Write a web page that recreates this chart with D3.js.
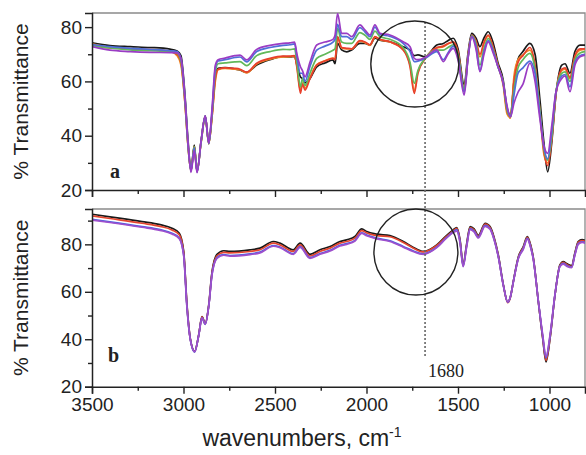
<!DOCTYPE html>
<html><head><meta charset="utf-8">
<script src="https://cdn.jsdelivr.net/npm/d3@7"></script>
<style>html,body{margin:0;padding:0;background:#fff;}svg{display:block;}</style>
</head><body>
<script>
// ---------- DATA ----------
const wnTop = [3500,3402,3292,3183,3074,3035,3014,2992,2975,2959,2941,2926,2904,2881,2862,2844,2826,2811,2773,2719,2691,2655,2600,2527,2456,2418,2393,2380,2361,2350,2336,2309,2272,2227,2183,2172,2158,2136,2108,2081,2036,2008,1981,1954,1926,1872,1800,1762,1739,1719,1680,1616,1580,1555,1526,1500,1466,1446,1425,1402,1380,1358,1335,1307,1282,1253,1232,1213,1194,1172,1145,1107,1079,1052,1030,1010,987,965,933,915,888,861,833,806];
const topBlack  = [74.2,73.2,72.8,72.5,71.9,71.2,69.5,55,38,27.5,36.5,27,38,47.3,37.5,48,62,64.8,65.1,64.6,64.2,63.3,66,68,69.1,69.0,69.2,66,61.7,61,59.5,61,65.4,66.8,67.9,66.5,74,71.6,70.9,71.6,74.0,74,73.4,75.9,75.2,74.6,72.8,71.5,69.5,69.8,69,73.4,74.0,75,75.9,72,58.7,70,77.7,76,72.8,76,78.3,74,67,60.5,50,47.5,60,68.2,71,74.0,70,53,37,26.7,38,55,66.0,66.5,63,71,73.4,73.4];
const topOrange = [73.8,72.5,72.1,71.8,71.2,69.5,66,52,36,27.2,36,27,37.5,47,37.2,47,60,64.3,64.8,64.5,64.3,63.1,66.4,68.2,69.0,69.1,69.3,65.5,56.5,59.5,57.5,61.5,66.2,67.6,68.6,68.2,76,72.3,72.0,72.0,74.8,74.3,73.3,76.3,75.4,74.5,71.8,66,56.5,63.5,68.4,72.2,72.8,73.8,74.5,70.5,56.5,68.5,76.8,74.5,69,74,76.8,72,66,58.5,48,46.5,62,68,69.8,71.5,65,48,33,30,40,55.5,64,64.5,61,69,71.5,71.8];
const topRed    = [73.5,72.3,72.0,71.7,71.0,70.0,67,52,36,27,36,26.8,37.5,47,37,47,61,64.5,65.0,64.8,64.5,63.4,66.7,68.5,69.3,69.3,69.5,65,55.6,59,56.8,61,66,67.5,68.5,68,76.5,72.5,72.2,72,75,74.5,73.5,76.5,75.5,74.6,71.6,65.4,55.6,63,68.3,72.5,73,74,74.6,71,56.8,69,77,75,70,74.5,77.1,72.5,66,59.5,49,47,60,67,69.5,72.5,66,49,34,29,39,55,64.5,65,61.5,69.5,72,72];
const topGreen  = [73.3,72.3,71.6,71.3,70.9,70.4,67.5,53,36,27,36,26.8,37.5,47,37,48,63.5,66.5,66.8,67.2,67.3,65.8,69.5,71,71.8,71.7,72,67,58,61,58.5,63,68.5,70,71.5,72,79.6,74.5,74,74,78,77,75.5,78.5,76.5,75.5,72.5,67,59.3,64,68.5,71.5,71.5,72.5,73.5,70,57,68.5,76.8,74,66,72,75.8,71.5,65.5,59.5,49.5,47,57,65,68,70.3,64.5,49,35,31,40,56,63,63.5,60,68,70.5,71];
const topBlue   = [73.6,72.8,72.2,71.8,71.3,71,68.5,54,37,27,35.5,26.6,37.8,47.2,37.2,49,65,67.5,68,68.8,69,67.2,71,72.5,73.3,73.5,73.8,69,63,63,60,65.5,71.5,73,74.5,75.5,81,76.5,76.5,75.5,79.8,78.2,76.5,80,77.3,76.6,74,71,67.3,67.5,68.5,71,68,70.5,73,69,56,68,76.6,73,64,71,75,71,65.5,59.5,50.5,47,55,63,65,67.5,63,47.5,35.5,31.5,42,56,62,62.5,58,67,69.5,70];
const topPurple = [72.8,71.5,71.0,70.7,70.6,70.5,68.5,54,37,26.5,34.5,26.4,38,47.3,37.2,50,66,68,68.6,69.5,69.7,67.9,71.8,73.3,74.0,74.2,74.5,70,65.4,64,61.7,67,73.4,74.5,75.5,77,85,77.7,77.7,76.5,80.8,78.9,77.1,80.8,77.7,77.1,74.6,72.8,68.5,68.0,68.8,71.6,67.3,70,72.2,68,55,68,76.5,72,63.6,70,74.6,70.3,65.5,59.3,51,47,52,56,59,66.7,60,46,36,33.5,44,56,61.1,62,56.2,66,69.1,69.7];

const wnBot = [3500,3402,3227,3128,3063,3023,2999,2981,2963,2939,2917,2899,2881,2862,2844,2817,2780,2746,2637,2582,2509,2473,2400,2363,2309,2254,2199,2145,2108,2063,2026,1999,1944,1872,1799,1746,1690,1616,1566,1526,1507,1489,1472,1453,1434,1412,1389,1352,1325,1303,1280,1252,1228,1213,1198,1170,1143,1121,1104,1088,1061,1037,1019,997,970,943,925,904,879,861,843,822,800];
const botBlack  = [92.7,91.6,89.6,88.3,86.8,84.7,77,54.5,40.4,35,41.8,49.5,46.7,54.5,68.5,75.8,77.3,77,77.7,78.4,81.2,80.5,77.7,80.5,75.8,77.7,79.1,81.2,81.9,83.3,86.5,85.4,84.3,83.7,81.2,78.8,77,79.8,83.5,86.1,87.1,82,71.5,80,87.5,86.5,83.8,88.9,87.5,83,75.6,62.9,55.5,58,64.3,74.8,79.1,83.3,80,74.2,55.9,40.4,30.5,40.4,58.7,71.3,72.7,71.8,71,76.5,81.2,82,81.5];
const botRed    = [92.0,90.9,88.9,87.6,86.1,84.0,76.5,54.2,40.2,34.8,41.6,49.4,46.5,54.2,68.1,75.2,76.6,76.4,77.0,77.7,80.5,79.8,77.0,79.8,75.1,77.0,78.4,80.5,81.2,82.6,85.8,84.8,83.7,83.2,80.8,78.5,76.8,79.5,83.1,85.7,86.7,81.6,71.2,79.6,87.1,86.1,83.4,88.5,87.1,82.6,75.3,62.7,55.4,57.9,64.1,74.5,78.7,82.9,79.6,73.9,55.8,40.6,31.0,40.6,58.6,71.0,72.4,71.4,70.6,76.1,80.8,81.6,81.1];
const botBlue   = [90.5,89.5,87.5,86.2,84.7,82.7,75.5,53.5,40.0,34.6,41.5,49.0,46.3,54.0,67.5,74.4,75.7,75.3,76.0,76.7,79.5,78.9,76.1,79.0,74.4,76.1,77.5,79.6,80.3,81.7,84.9,83.9,82.6,81.5,79.1,77.3,76.0,78.8,82.6,85.3,86.2,81.2,70.8,79.2,86.6,85.6,83.0,88.0,86.7,82.2,75.0,62.6,55.6,58.0,64.0,74.2,78.3,82.5,79.2,73.6,56.0,41.2,32.2,41.2,58.8,70.8,72.0,71.0,70.4,75.8,80.3,81.1,80.6];
const botPurple = [90.2,89.2,87.2,85.9,84.4,82.4,75.2,53.3,40.0,34.8,41.6,49.0,46.4,54.0,67.2,74.1,75.4,75.0,75.7,76.4,79.2,78.6,75.8,78.7,74.1,75.8,77.2,79.3,80.0,81.4,84.6,83.6,82.3,81.2,78.8,77.0,75.8,78.6,82.4,85.0,85.6,80.6,70.6,78.8,86.2,85.2,82.7,87.6,86.4,82.0,74.8,62.6,55.7,58.1,64.0,74.0,78.0,82.2,78.9,73.4,56.2,41.8,32.7,41.8,59.0,70.6,71.7,70.7,70.2,75.5,80.0,80.8,80.3];

const xMajorTicks = [3500,3000,2500,2000,1500,1000];
const xMinorTicks = [3250,2750,2250,1750,1250];
const yMajorTicks = [20,40,60,80];
const yMinorTopTicks = [30,50,70];
const yMinorBotTicks = [30,50,70,90];
const markerWn = 1680;

// ---------- DRAW ----------
const W = 586, H = 455;
const svg = d3.select("body").append("svg").attr("width", W).attr("height", H)
  .style("font-family", "Arial, 'Liberation Sans', sans-serif");
svg.append("rect").attr("width", W).attr("height", H).attr("fill", "#fff");

const x = d3.scaleLinear().domain([3500, 806]).range([92, 585]);
const yTop = d3.scaleLinear().domain([20, 85.2]).range([190, 13]);
const yBot = d3.scaleLinear().domain([20, 94.9]).range([386.7, 209]);

const colorsTop = ["#1a1a1a", "#f08a24", "#e8402c", "#62b85a", "#4f6fd8", "#9a3cc4"];
const colorsBot = ["#1a1a1a", "#e4452e", "#4d5fe0", "#9e4fcc"];

function panel(y, wn, series, colors, minorY, showLabels, id) {
  const x0 = x.range()[0], x1 = x.range()[1];
  const yT = y.range()[1], yB = y.range()[0];
  svg.append("clipPath").attr("id", id).append("rect")
    .attr("x", x0).attr("y", yT).attr("width", x1 - x0).attr("height", yB - yT);
  // frame (top + right)
  svg.append("path").attr("d", `M${x0},${yT}H${x1}V${yB}`)
    .attr("fill", "none").attr("stroke", "#8a8a8a").attr("stroke-width", 1.3);
  const g = svg.append("g").attr("clip-path", `url(#${id})`);
  const line = d3.line().x((d, i) => x(wn[i])).y(d => y(d)).curve(d3.curveMonotoneX);
  series.forEach((s, k) => {
    g.append("path").datum(s).attr("d", line).attr("fill", "none")
      .attr("stroke", colors[k]).attr("stroke-width", 1.7).attr("stroke-linejoin", "round");
  });
  // y axis
  const ya = d3.axisLeft(y).tickValues(yMajorTicks).tickSize(7).tickPadding(3).tickFormat(d3.format("d"));
  const yg = svg.append("g").attr("transform", `translate(${x0},0)`).call(ya);
  yg.select(".domain").attr("stroke", "#222").attr("stroke-width", 1.5);
  yg.selectAll(".tick line").attr("stroke", "#222").attr("stroke-width", 1.4);
  yg.selectAll(".tick text").attr("font-size", 19).attr("fill", "#222")
    .attr("font-family", "Arial, 'Liberation Sans', sans-serif");
  const ym = svg.append("g").attr("transform", `translate(${x0},0)`)
    .call(d3.axisLeft(y).tickValues(minorY).tickSize(4).tickFormat(""));
  ym.select(".domain").remove();
  ym.selectAll(".tick line").attr("stroke", "#222").attr("stroke-width", 1.4);
  // x axis
  const xa = d3.axisBottom(x).tickValues(xMajorTicks).tickSize(7).tickPadding(4)
    .tickFormat(showLabels ? d3.format("d") : "");
  const xg = svg.append("g").attr("transform", `translate(0,${yB})`).call(xa);
  xg.select(".domain").attr("stroke", "#222").attr("stroke-width", 1.5);
  xg.selectAll(".tick line").attr("stroke", "#222").attr("stroke-width", 1.4);
  xg.selectAll(".tick text").attr("font-size", 19).attr("fill", "#222")
    .attr("font-family", "Arial, 'Liberation Sans', sans-serif");
  const xm = svg.append("g").attr("transform", `translate(0,${yB})`)
    .call(d3.axisBottom(x).tickValues(xMinorTicks).tickSize(4).tickFormat(""));
  xm.select(".domain").remove();
  xm.selectAll(".tick line").attr("stroke", "#222").attr("stroke-width", 1.4);
}

panel(yTop, wnTop, [topBlack, topOrange, topRed, topGreen, topBlue, topPurple], colorsTop, yMinorTopTicks, false, "clipTop");
panel(yBot, wnBot, [botBlack, botRed, botBlue, botPurple], colorsBot, yMinorBotTicks, true, "clipBot");

// dashed marker line at 1680
svg.append("line").attr("x1", x(markerWn)).attr("x2", x(markerWn))
  .attr("y1", 22).attr("y2", 358)
  .attr("stroke", "#666").attr("stroke-width", 1.6).attr("stroke-dasharray", "2,2");
svg.append("text").attr("x", x(markerWn) + 3).attr("y", 377)
  .attr("font-family", "'Liberation Serif', 'Times New Roman', serif").attr("font-size", 18)
  .attr("fill", "#222").text(String(markerWn));

// circles
svg.append("ellipse").attr("cx", x(1736)).attr("cy", 64).attr("rx", 44).attr("ry", 43)
  .attr("fill", "none").attr("stroke", "#222").attr("stroke-width", 1.4);
svg.append("ellipse").attr("cx", x(1730)).attr("cy", 252).attr("rx", 42).attr("ry", 43)
  .attr("fill", "none").attr("stroke", "#222").attr("stroke-width", 1.4);

// panel letters
svg.append("text").attr("x", 110).attr("y", 178).attr("font-family", "'Liberation Serif', 'Times New Roman', serif")
  .attr("font-size", 20).attr("font-weight", "bold").attr("fill", "#222").text("a");
svg.append("text").attr("x", 108).attr("y", 362).attr("font-family", "'Liberation Serif', 'Times New Roman', serif")
  .attr("font-size", 20).attr("font-weight", "bold").attr("fill", "#222").text("b");

// y axis titles
[[yTop, "% Transmittance"], [yBot, "% Transmittance"]].forEach(([y, t]) => {
  const cy = (y.range()[0] + y.range()[1]) / 2;
  svg.append("text").attr("transform", `translate(28,${cy}) rotate(-90)`)
    .attr("text-anchor", "middle").attr("font-size", 21).attr("fill", "#222").text(t);
});

// x axis title
const xt = svg.append("text").attr("x", 302).attr("y", 446).attr("text-anchor", "middle")
  .attr("font-size", 23).attr("fill", "#222");
xt.append("tspan").text("wavenumbers, cm");
xt.append("tspan").attr("dy", -9).attr("font-size", 14).text("-1");
</script>
</body></html>
